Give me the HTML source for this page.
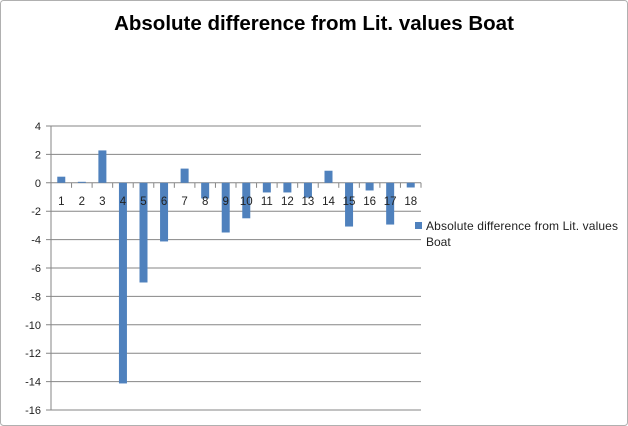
<!DOCTYPE html>
<html><head><meta charset="utf-8"><style>
body{margin:0;background:#fff;}
svg{display:block;font-family:"Liberation Sans",Calibri,sans-serif;}
</style></head><body>
<svg width="628" height="426" viewBox="0 0 628 426">
<rect x="0.5" y="0.5" width="627" height="425" rx="3" fill="#fff" stroke="#b0b0b0"/>
<text x="314" y="30" text-anchor="middle" font-size="20.5" font-weight="bold" fill="#000">Absolute difference from Lit. values Boat</text>
<g id="grid"></g><g id="bars"></g><g id="labels"></g>
<g>
<rect x="415" y="222" width="7" height="7" fill="#4f81bd"/>
<text x="426" y="230" font-size="12" fill="#222" textLength="192">Absolute difference from Lit. values</text>
<text x="426" y="246" font-size="12" fill="#222">Boat</text>
</g>
</svg>
<script>
const categories=["1","2","3","4","5","6","7","8","9","10","11","12","13","14","15","16","17","18"];
const values=[0.43,0.07,2.28,-14.13,-7.02,-4.13,1.0,-1.1,-3.5,-2.5,-0.68,-0.68,-1.04,0.85,-3.08,-0.54,-2.94,-0.33];
const yTicks=[4,2,0,-2,-4,-6,-8,-10,-12,-14,-16];
const NS="http://www.w3.org/2000/svg";
const x0=51,x1=421,yMax=4,yMin=-16,yTop=126,yBot=410;
const y=v=>yTop+(yMax-v)/(yMax-yMin)*(yBot-yTop);
const band=(x1-x0)/categories.length;
const xc=i=>x0+band*(i+0.5);
function mk(t,a,p){const e=document.createElementNS(NS,t);for(const k in a)e.setAttribute(k,a[k]);p.appendChild(e);return e;}
const grid=document.getElementById('grid'),bars=document.getElementById('bars'),labels=document.getElementById('labels');
yTicks.forEach(t=>{
 const l=mk('line',{x1:x0-5,x2:x1,y1:y(t),y2:y(t),stroke:'#868686','stroke-width':1},grid);
 
 
 const tx=mk('text',{x:x0-10,y:y(t)+4,'text-anchor':'end','font-size':11,fill:'#222'},grid);
 tx.textContent=t;
 
 
});
const ax=mk('line',{x1:x0,x2:x0,y1:yTop,y2:yBot,stroke:'#868686'},grid);


categories.forEach((c,i)=>{
 const tk=mk('line',{x1:x0+band*(i+1),x2:x0+band*(i+1),y1:y(0),y2:y(0)+5,stroke:'#868686'},grid);
 
 
 const v=values[i],top=Math.min(y(v),y(0)),h=Math.abs(y(v)-y(0));
 const r=mk('rect',{x:xc(i)-4,y:top,width:8,height:Math.max(h,1),fill:'#4f81bd'},bars);
 
 
 const t=mk('text',{x:xc(i),y:y(0)+22,'text-anchor':'middle','font-size':11.5,fill:'#222'},labels);
 t.textContent=c;
 
 
});
</script>
</body></html>
